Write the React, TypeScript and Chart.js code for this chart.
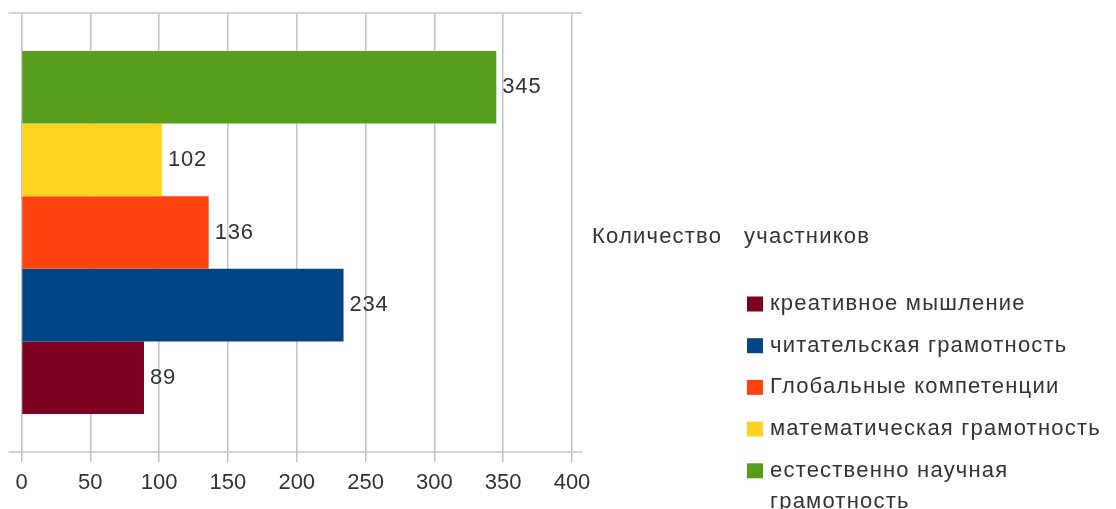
import React, { useEffect, useRef } from "react";
import { Chart, registerables } from "chart.js";

Chart.register(...registerables);

const categories = ["Количество   участников"];
const seriesNames = [
  "креативное мышление",
  "читательская грамотность",
  "Глобальные компетенции",
  "математическая грамотность",
  "естественно научная грамотность",
];
const seriesValues = [89, 234, 136, 102, 345];
const seriesColors = ["#7E0021", "#004586", "#FF420E", "#FFD320", "#579D1C"];
const legendLines = [
  ["креативное мышление"],
  ["читательская грамотность"],
  ["Глобальные компетенции"],
  ["математическая грамотность"],
  ["естественно научная", "грамотность"],
];
const xTicks = [0, 50, 100, 150, 200, 250, 300, 350, 400];

const FONT = "'Liberation Sans', Arial, sans-serif";
const TEXT = "#333333";
const GRID = "#c4c4c4";

const decorPlugin = {
  id: "decor",
  beforeDatasetsDraw(chart: any) {
    const { ctx, chartArea } = chart;
    ctx.save();
    ctx.strokeStyle = GRID;
    ctx.lineWidth = 1.5;
    for (const y of [chartArea.top, chartArea.bottom]) {
      ctx.beginPath();
      ctx.moveTo(chartArea.left - 13, y);
      ctx.lineTo(chartArea.right + 10, y);
      ctx.stroke();
    }
    ctx.restore();
  },
  afterDatasetsDraw(chart: any) {
    const { ctx } = chart;
    ctx.save();
    ctx.font = `22px ${FONT}`;
    ctx.fillStyle = TEXT;
    ctx.textBaseline = "middle";
    ctx.textAlign = "left";
    (ctx as any).letterSpacing = "0.8px";
    chart.data.datasets.forEach((ds: any, i: number) => {
      const meta = chart.getDatasetMeta(i);
      meta.data.forEach((bar: any, j: number) => {
        ctx.fillText(String(ds.data[j]), bar.x + 6, bar.y);
      });
    });
    (ctx as any).letterSpacing = "1.2px";
    // category label shown as a title
    ctx.fillText(categories[0], 592, 237);
    // legend, in reverse dataset order
    const n = chart.data.datasets.length;
    let y = 304;
    for (let k = n - 1; k >= 0; k--) {
      const ds = chart.data.datasets[k];
      const lines = legendLines[n - 1 - k];
      ctx.fillStyle = ds.backgroundColor;
      ctx.fillRect(747, y - 7.5, 16, 15);
      ctx.fillStyle = TEXT;
      lines.forEach((ln: string, li: number) => {
        ctx.fillText(ln, 770, y + li * 31);
      });
      y += 41.7;
    }
    ctx.restore();
  },
};

export default function App() {
  const ref = useRef<HTMLCanvasElement | null>(null);
  useEffect(() => {
    if (!ref.current) return;
    const order = [4, 3, 2, 1, 0];
    const chart = new Chart(ref.current, {
      type: "bar",
      data: {
        labels: categories,
        datasets: order.map((i) => ({
          label: seriesNames[i],
          data: [seriesValues[i]],
          backgroundColor: seriesColors[i],
          borderWidth: 0,
          categoryPercentage: 0.827,
          barPercentage: 1,
        })),
      },
      options: {
        indexAxis: "y",
        animation: false,
        responsive: false,
        maintainAspectRatio: false,
        layout: { padding: { top: 13, right: 544, left: 0, bottom: 0 } },
        plugins: { legend: { display: false }, tooltip: { enabled: false }, title: { display: false } },
        scales: {
          x: {
            min: 0,
            max: 400,
            afterBuildTicks: (s: any) => {
              s.ticks = xTicks.map((v) => ({ value: v }));
            },
            afterFit: (s: any) => {
              s.height = 57;
            },
            border: { display: false },
            grid: { color: GRID, lineWidth: 1.5, tickLength: 10, drawTicks: true, tickColor: GRID },
            ticks: { color: TEXT, font: { family: FONT, size: 22 }, padding: 8, maxRotation: 0 },
          },
          y: {
            afterFit: (s: any) => {
              s.width = 21.5;
            },
            border: { display: false },
            grid: { display: false },
            ticks: { display: false },
          },
        },
      },
      plugins: [decorPlugin],
    });
    return () => chart.destroy();
  }, []);
  return (
    <div style={{ position: "fixed", left: 0, top: 0, width: 1116, height: 509, background: "#fff" }}>
      <canvas ref={ref} width={1116} height={509} style={{ width: 1116, height: 509 }} />
    </div>
  );
}
